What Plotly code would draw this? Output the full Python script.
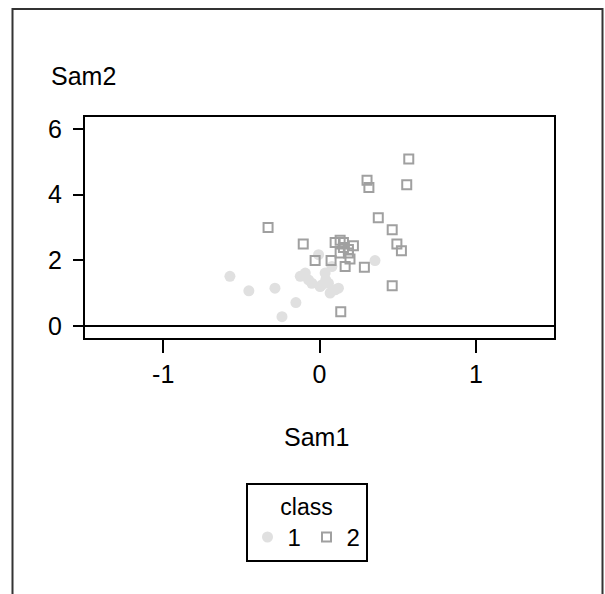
import plotly.graph_objects as go

# ---- data ----
class1_x = [-0.573, -0.452, -0.285, -0.151, -0.240, -0.123, -0.091, -0.049, -0.006,
            0.036, 0.004, 0.068, 0.121, 0.057, 0.355, 0.079, 0.040, -0.070, 0.015, 0.100]
class1_y = [1.51, 1.07, 1.15, 0.71, 0.28, 1.51, 1.61, 1.30, 2.17,
            1.61, 1.20, 1.00, 1.15, 1.30, 1.99, 1.81, 1.40, 1.40, 1.25, 1.10]

class2_x = [0.571, 0.304, 0.316, 0.558, 0.376, -0.329, 0.465, -0.104, 0.495, 0.524,
            -0.028, 0.074, 0.287, 0.465, 0.136, 0.100, 0.132, 0.153, 0.217, 0.185,
            0.132, 0.164, 0.195, 0.153, 0.185]
class2_y = [5.09, 4.44, 4.22, 4.30, 3.30, 3.00, 2.93, 2.50, 2.50, 2.29,
            1.99, 1.99, 1.79, 1.22, 0.43, 2.54, 2.61, 2.54, 2.44, 2.22,
            2.22, 1.81, 2.04, 2.39, 2.33]

x_ticks = [-1, 0, 1]
x_ticklabels = ["-1", "0", "1"]
y_ticks = [0, 2, 4, 6]
y_ticklabels = ["0", "2", "4", "6"]

x_title = "Sam1"
y_title = "Sam2"
legend_title = "class"
class_names = ["1", "2"]

FONT = "Liberation Sans Narrow, Liberation Sans, Arial, sans-serif"
FS = 25

fig = go.Figure()
fig.add_trace(go.Scatter(
    x=class1_x, y=class1_y, mode="markers", name=class_names[0],
    marker=dict(symbol="circle", size=11, color="#e0e0e0", line=dict(width=0)),
))
fig.add_trace(go.Scatter(
    x=class2_x, y=class2_y, mode="markers", name=class_names[1],
    marker=dict(symbol="square-open", size=9, color="#a0a0a0",
                line=dict(width=2, color="#a0a0a0")),
))

W, H = 605, 594
L, R, T, B = 85, 51, 117, 256
pw, ph = W - L - R, H - T - B


def px2paper_x(px):
    return (px - L) / pw


def px2paper_y(py):
    return (H - B - py) / ph


fig.update_layout(
    width=W, height=H,
    margin=dict(l=L, r=R, t=T, b=B, pad=0),
    paper_bgcolor="white", plot_bgcolor="white",
    font=dict(family=FONT, size=FS, color="black"),
    showlegend=True,
    legend=dict(
        orientation="h",
        x=px2paper_x(306.5), xanchor="center",
        y=px2paper_y(483), yanchor="top",
        bordercolor="black", borderwidth=2,
        bgcolor="white",
        title=dict(text=legend_title, side="top center", font=dict(size=23)),
        font=dict(size=24),
        itemwidth=30,
        entrywidth=14, entrywidthmode="pixels",
        tracegroupgap=0,
    ),
    xaxis=dict(
        range=[-1.5, 1.5],
        tickmode="array", tickvals=x_ticks, ticktext=x_ticklabels,
        ticks="outside", ticklen=13, tickwidth=2, tickcolor="black",
        showline=True, linecolor="black", linewidth=2, mirror=True,
        showgrid=False, zeroline=False,
        ticklabelstandoff=0,
    ),
    yaxis=dict(
        range=[-0.37, 6.37],
        tickmode="array", tickvals=y_ticks, ticktext=y_ticklabels,
        ticks="outside", ticklen=10, tickwidth=2, tickcolor="black",
        showline=True, linecolor="black", linewidth=2, mirror=True,
        showgrid=False,
        zeroline=True, zerolinecolor="black", zerolinewidth=2,
        ticklabelstandoff=6,
    ),
    annotations=[
        dict(text=y_title, xref="paper", yref="paper",
             x=px2paper_x(83), y=px2paper_y(76),
             xanchor="center", yanchor="middle", showarrow=False,
             font=dict(family=FONT, size=FS)),
        dict(text=x_title, xref="paper", yref="paper",
             x=px2paper_x(316), y=px2paper_y(437),
             xanchor="center", yanchor="middle", showarrow=False,
             font=dict(family=FONT, size=FS)),
    ],
    shapes=[
        dict(type="rect", xref="paper", yref="paper",
             x0=px2paper_x(12.5), x1=px2paper_x(602.5),
             y0=px2paper_y(620), y1=px2paper_y(9),
             line=dict(color="#333333", width=2), fillcolor="rgba(0,0,0,0)",
             layer="above"),
    ],
)

fig.write_html("out.html")
